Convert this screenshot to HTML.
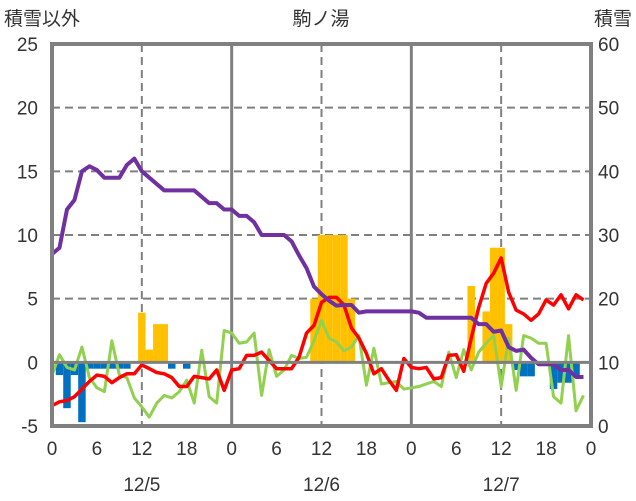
<!DOCTYPE html>
<html><head><meta charset="utf-8"><style>
body{margin:0;background:#fff;}
svg{display:block;font-family:"Liberation Sans","Noto Sans CJK JP",sans-serif;}
</style></head><body>
<svg id="chart" width="636" height="501">
<text x="4" y="25" font-size="19" fill="#333">積雪以外</text>
<text x="321" y="25" font-size="19" fill="#333" text-anchor="middle">駒ノ湯</text>
<text x="632" y="25" font-size="19" fill="#333" text-anchor="end">積雪</text>
<g id="grid"></g><g id="bars"></g><g id="lines"></g><g id="axes"></g>
</svg>
<script>
const leftTicks=[-5,0,5,10,15,20,25];
const rightTicks=[0,10,20,30,40,50,60];
const hourLabels=["0","6","12","18","0","6","12","18","0","6","12","18","0"];
const dateLabels=["12/5","12/6","12/7"];
const snowfall=[0,0,0,0,0,0,0,0,0,0,0,0,3.9,1,3,3,0,0,0,0,0,0,0,0, 0,0,0,0,0,0,0,0,0,0,0,5,10,10,10,10,5,0,0,0,0,0,0,0, 0,0,0,0,0,0,0,0,6,0,4,9,9,3,0,0,0,0,0,0,0,0,0,0];
const depthChange=[0,-1.0,-3.6,-1.0,-4.7,-0.5,-0.5,-0.5,-0.5,-0.5,-0.5,0,0,0,0,0,-0.5,0,-0.5,0,0,0,0,0, 0,0,0,0,0,0,0,0,0,0,0,0,0,0,0,0,0,0,0,0,0,0,0,0, 0,0,0,0,0,0,0,0,0,0,0,0,0,0,-0.6,-1.1,-1.1,0,0,-2.1,-1.6,-1.6,-1.1,0];
const temperature=[-3.4,-3.1,-3.0,-2.7,-2.1,-1.5,-1.0,-1.1,-1.6,-1.2,-0.9,-0.9,-0.2,-0.5,-0.8,-0.9,-1.2,-1.9,-1.9,-1.1,-1.2,-1.3,-0.6,-2.2,
-0.6,-0.5,0.55,0.55,0.8,0.15,-0.5,-0.5,-0.5,0.4,2.3,2.9,4.7,5.1,5.1,4.5,2.7,1.9,0.7,-0.9,-0.5,-1.4,-2.2,0.3,
-0.4,-0.5,-0.4,-1.3,-1.2,0.55,0.6,-0.7,1.9,4.3,6.2,7.0,8.2,5.5,4.1,3.8,3.3,3.8,4.9,4.5,5.3,4.2,5.3,4.9];
const humidityLike=[-1.0,0.6,-0.4,-0.6,1.2,-1.2,-2.0,-2.3,1.7,-1.0,-1.2,-2.8,-3.5,-4.3,-3.2,-2.6,-2.8,-2.3,-1.4,-3.2,0.95,-2.7,-3.2,2.5,
2.3,1.5,1.6,2.3,-2.6,1.0,-1.1,-0.6,0.55,0.3,0.4,1.7,3.3,1.9,1.6,0.9,1.2,2.1,-1.8,1.1,-1.7,-1.6,-1.5,-2.1,
-2.0,-1.9,-1.7,-1.5,-1.9,0.8,-1.2,1.0,-0.6,0.8,1.5,2.1,-1.9,1.9,-2.2,2.1,1.9,1.5,1.5,-2.7,-3.2,2.1,-3.8,-2.6];
const snowDepth=[27,28,34,35.5,40,40.8,40.2,39,39,39,41,42,40,39,38,37,37,37,37,37,36,35,35,34,
34,33,33,32,30,30,30,30,29,26.8,24.8,21.9,20.7,19.7,18.9,19,19,17.8,18,18,18,18,18,18,
18,17.8,17,17,17,17,17,17,17,16,16,14.8,15,12.4,11.8,12,10.7,9.7,9.7,9.7,8.8,8.8,7.7,7.7];

const NS="http://www.w3.org/2000/svg";
const X0=52,X1=591,Y0=44,Y1=426;
const xS=h=>X0+h*(X1-X0)/72;
const yL=v=>Y1-(v+5)*(Y1-Y0)/30;
const yR=v=>Y1-v*(Y1-Y0)/60;
function mk(tag,attrs,parent){const e=document.createElementNS(NS,tag);for(const k in attrs)e.setAttribute(k,attrs[k]);parent.appendChild(e);return e;}
const grid=document.getElementById('grid'),bars=document.getElementById('bars'),lines=document.getElementById('lines'),axes=document.getElementById('axes');
leftTicks.forEach(v=>{
  if(v>0&&v<25){const l=mk('line',{x1:X0,x2:X1,y1:yL(v),y2:yL(v),stroke:'#808080','stroke-width':2,'stroke-dasharray':'8,5'},grid);
  
  }
  const t=mk('text',{x:38,y:yL(v)+7,'font-size':19,fill:'#333','text-anchor':'end'},axes);t.textContent=v;
  
  
});
rightTicks.forEach(v=>{
  const t=mk('text',{x:598,y:yR(v)+7,'font-size':19,fill:'#333'},axes);t.textContent=v;
  
  
});
hourLabels.forEach((s,i)=>{
  const h=i*6;
  if(h%24===12){const l=mk('line',{x1:xS(h),x2:xS(h),y1:Y0,y2:Y1,stroke:'#808080','stroke-width':2,'stroke-dasharray':'8,5'},grid);
  
  }
  if(h===24||h===48){const l=mk('line',{x1:xS(h),x2:xS(h),y1:Y0,y2:Y1,stroke:'#808080','stroke-width':3},grid);
  
  }
  const t=mk('text',{x:xS(h),y:455,'font-size':19,fill:'#333','text-anchor':'middle'},axes);t.textContent=s;
  
  
});
dateLabels.forEach((s,i)=>{
  const t=mk('text',{x:xS(12+24*i),y:491,'font-size':19,fill:'#333','text-anchor':'middle'},axes);t.textContent=s;
  
  
});
const bw=(X1-X0)/72;
snowfall.forEach((v,i)=>{if(v>0){const r=mk('rect',{x:xS(i)-bw/2,y:yL(v),width:bw,height:yL(0)-yL(v),fill:'#FFC000'},bars);
  
  }});
depthChange.forEach((v,i)=>{if(v<0){const r=mk('rect',{x:xS(i)-bw/2,y:yL(0),width:bw,height:yL(v)-yL(0),fill:'#0070C0'},bars);
  
  }});
function line(arr,ys,color,w,name){
  const p=mk('polyline',{points:arr.map((v,i)=>xS(i)+','+ys(v)).join(' '),fill:'none',stroke:color,'stroke-width':w,'stroke-linejoin':'round'},lines);
  
  
}
line(humidityLike,yL,'#92D050',3,'green-series-line');
line(temperature,yL,'#FF0000',3.5,'temperature-line');
line(snowDepth,yR,'#7030A0',4,'snow-depth-line');
const z=mk('line',{x1:X0,x2:X1,y1:yL(0),y2:yL(0),stroke:'#808080','stroke-width':3},axes);


const f=mk('rect',{x:X0,y:Y0,width:X1-X0,height:Y1-Y0,fill:'none',stroke:'#808080','stroke-width':4},axes);


</script>
</body></html>
